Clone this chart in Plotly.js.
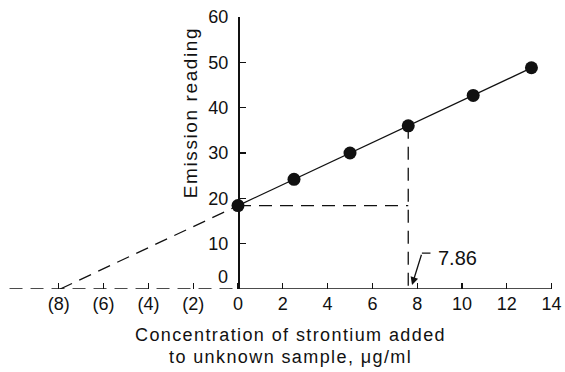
<!DOCTYPE html>
<html>
<head>
<meta charset="utf-8">
<script src="https://cdn.plot.ly/plotly-3.0.1.min.js"></script>
<style>
html,body{margin:0;padding:0;background:#fff;}
#chart{width:565px;height:372px;}
</style>
</head>
<body>
<div id="chart"></div>
<script>
// ---- data ----
const addedConc = [0, 2.5, 5.0, 7.6, 10.5, 13.1];      // µg/ml strontium added
const emission  = [18.4, 24.2, 30.0, 36.0, 42.7, 48.8]; // emission reading
const xTickVals  = [-8, -6, -4, -2, 0, 2, 4, 6, 8, 10, 12, 14];
const xTickText  = ['(8)', '(6)', '(4)', '(2)', '0', '2', '4', '6', '8', '10', '12', '14'];
const yTickVals  = [10, 20, 30, 40, 50, 60];
const yTickText  = ['10', '20', '30', '40', '50', '60'];
const answerLabel = '7.86';
const readIndex = 3;          // point used for the dashed read-off lines
const xAxisEnd = 14;
const baselineStart = -10.2;

// least-squares fit
const n = addedConc.length;
const mx = addedConc.reduce((a,b)=>a+b,0)/n;
const my = emission.reduce((a,b)=>a+b,0)/n;
let sxy=0, sxx=0;
for (let i=0;i<n;i++){ sxy+=(addedConc[i]-mx)*(emission[i]-my); sxx+=(addedConc[i]-mx)**2; }
const slope = sxy/sxx;
const icpt = my - slope*mx;
const xIntercept = -icpt/slope;
const xLast = addedConc[n-1];

const ink = '#111111';
const dashPat = '13px,8px';
const xRange = [-10.625, 14.286];
const yAxisPos = (0 - xRange[0])/(xRange[1]-xRange[0]);

const traces = [
  {x:[baselineStart, 0], y:[0,0], mode:'lines', line:{color:ink, width:1.3, dash:dashPat}, hoverinfo:'skip'},
  {x:[xIntercept, 0], y:[0, icpt], mode:'lines', line:{color:ink, width:1.3, dash:dashPat}, hoverinfo:'skip'},
  {x:[0, addedConc[readIndex]], y:[emission[0], emission[0]], mode:'lines', line:{color:ink, width:1.3, dash:dashPat}, hoverinfo:'skip'},
  {x:[addedConc[readIndex], addedConc[readIndex]], y:[emission[readIndex], 0], mode:'lines', line:{color:ink, width:1.3, dash:dashPat}, hoverinfo:'skip'},
  {x:[0, xAxisEnd], y:[0,0], mode:'lines', line:{color:ink, width:1.6}, hoverinfo:'skip'},
  {x:[0, xLast], y:[icpt, icpt+slope*xLast], mode:'lines', line:{color:ink, width:1.3}, hoverinfo:'skip'},
  {x:addedConc, y:emission, mode:'markers', marker:{color:ink, size:13}, cliponaxis:false}
];

const baseFont = {family:'"Liberation Sans", Arial, sans-serif', color:ink, size:18};

const layout = {
  width:565, height:372,
  margin:{l:0, r:7, t:17, b:83},
  paper_bgcolor:'#fff', plot_bgcolor:'#fff',
  showlegend:false,
  font: baseFont,
  xaxis:{
    range:xRange, showgrid:false, zeroline:false, showline:false,
    tickmode:'array', tickvals:xTickVals, ticktext:xTickText,
    ticks:'inside', ticklen:6, tickwidth:1.3, tickcolor:ink,
    tickfont:{size:18, color:ink}, ticklabelstandoff:2, fixedrange:true
  },
  yaxis:{
    range:[0,60], anchor:'free', position:yAxisPos,
    showgrid:false, zeroline:false, showline:true, linecolor:ink, linewidth:1.6,
    tickmode:'array', tickvals:yTickVals, ticktext:yTickText,
    ticks:'inside', ticklen:6, tickwidth:1.3, tickcolor:ink,
    tickfont:{size:18, color:ink}, ticklabelstandoff:6, automargin:false, fixedrange:true
  },
  annotations:[
    {x:0, y:0, xref:'x', yref:'y', text:'0', showarrow:false, xanchor:'right', yanchor:'middle',
     xshift:-8, yshift:12, font:{size:18, color:ink}},
    {x:-2.14, y:38.8, xref:'x', yref:'y', text:'<span style="letter-spacing:1.6px">Emission reading</span>',
     textangle:-90, showarrow:false, font:{size:19, color:ink}},
    {x:0.5215, y:-0.169, xref:'paper', yref:'paper', text:'<span style="letter-spacing:1.4px">Concentration of strontium added</span>',
     showarrow:false, xanchor:'center', yanchor:'middle', font:{size:18, color:ink}},
    {x:0.5215, y:-0.25, xref:'paper', yref:'paper', text:'<span style="letter-spacing:1.4px">to unknown sample, μg/ml</span>',
     showarrow:false, xanchor:'center', yanchor:'middle', font:{size:18, color:ink}},
    {x:9.78, y:6.8, xref:'x', yref:'y', text:answerLabel, showarrow:false, xanchor:'center', yanchor:'middle',
     font:{size:20, color:ink}},
    {x:7.77, y:0.9, xref:'x', yref:'y', ax:8.21, ay:7.9, axref:'x', ayref:'y', text:'',
     showarrow:true, arrowhead:2, arrowsize:1.2, arrowwidth:1.3, arrowcolor:ink},
    {x:8.21, y:7.9, xref:'x', yref:'y', ax:8.66, ay:7.9, axref:'x', ayref:'y', text:'',
     showarrow:true, arrowhead:0, arrowwidth:1.3, arrowcolor:ink}
  ]
};

Plotly.newPlot('chart', traces, layout, {staticPlot:true, displayModeBar:false});
</script>
</body>
</html>
